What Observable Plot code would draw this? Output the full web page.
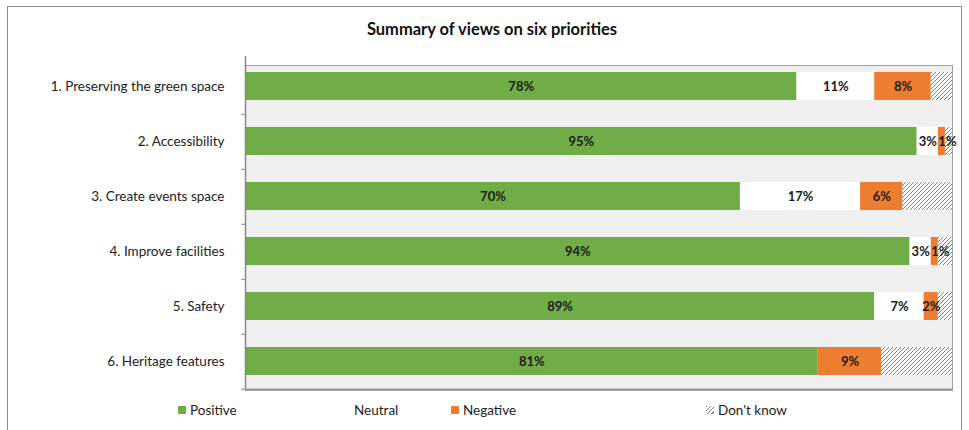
<!DOCTYPE html>
<html>
<head>
<meta charset="utf-8">
<script src="https://cdn.jsdelivr.net/npm/d3@7"></script>
<script src="https://cdn.jsdelivr.net/npm/@observablehq/plot@0.6"></script>
<style>
  body { margin: 0; background: #fff; font-family: Lato, "Open Sans", sans-serif; }
  #wrap { position: relative; width: 969px; height: 430px; overflow: hidden; }
  #border { position: absolute; left: 7px; top: 6px; width: 955px; height: 440px; border: 1px solid #8c8c8c; box-sizing: border-box; }
  #title { position: absolute; left: 0; top: 19px; width: 984px; text-align: center; font-weight: bold; font-size: 16.5px; color: #111; }
  #chart { position: absolute; left: 0; top: 0; }
  .leg { position: absolute; top: 402px; font-size: 13.5px; color: #222; display: flex; align-items: center; }
  .sw { width: 8px; height: 8px; margin-right: 4px; display: inline-block; }
</style>
</head>
<body>
<div id="wrap">
  <div id="border"></div>
  <div id="chart"></div>
  <div id="title">Summary of views on six priorities</div>
  <div id="legend"></div>
</div>
<script>
const categories = [
  "1. Preserving the green space",
  "2. Accessibility",
  "3. Create events space",
  "4. Improve facilities",
  "5. Safety",
  "6. Heritage features"
];
const seriesNames = ["Positive", "Neutral", "Negative", "Don't know"];
const positive = [78, 95, 70, 94, 89, 81];
const neutral  = [11, 3, 17, 3, 7, 0];
const negative = [8, 1, 6, 1, 2, 9];
const dontKnow = [3, 1, 7, 2, 2, 10];
const seriesColors = ["#70ad47", "#ffffff", "#ed7d31", "url(#hatch)"];
const legendLeft = [178, 342, 451, 706];

const columns = [positive, neutral, negative, dontKnow];
const data = [];
categories.forEach((c, i) => {
  seriesNames.forEach((s, j) => data.push({cat: c, series: s, value: columns[j][i]}));
});

const labelText = d => (d.series === "Don't know" || d.value === 0) ? "" : d.value + "%";
const labelStyle = {fontWeight: "bold", fontSize: 13, fill: "#1a1a1a"};

const plot = Plot.plot({
  width: 969,
  height: 400,
  marginLeft: 245,
  marginRight: 17,
  marginTop: 56,
  marginBottom: 10,
  style: {fontFamily: "Lato, 'Open Sans', sans-serif", fontSize: "13px", color: "#222", background: "transparent"},
  x: {domain: [0, 100], axis: null},
  y: {domain: categories, paddingInner: 0.5, paddingOuter: 0.25, label: null},
  color: {domain: seriesNames, range: seriesColors},
  marks: [
    Plot.frame({fill: "#f0f0f0", stroke: "#a0a0a0", insetTop: 9}),
    Plot.barX(data, Plot.stackX({x: "value", y: "cat", fill: "series", order: seriesNames})),
    // labels that fit: centred in their segment
    Plot.text(data, Plot.stackX({
      x: "value", y: "cat", z: "series", order: seriesNames,
      text: d => d.value > 1 ? labelText(d) : "",
      ...labelStyle
    })),
    // labels wider than their segment: start at the segment's left edge
    Plot.text(data, Plot.stackX1({
      x: "value", y: "cat", z: "series", order: seriesNames,
      text: d => d.value === 1 ? labelText(d) : "",
      textAnchor: "start",
      ...labelStyle
    })),
    Plot.axisY({tickSize: 0, tickPadding: 21, fontSize: 13.5, fill: "#222"}),
    Plot.axisY({tickSize: 4, dy: 27.75, tickFormat: () => "", stroke: "#888"}),
    Plot.ruleX([0], {stroke: "#888", strokeWidth: 1.5}),
    Plot.ruleY([0], {y: () => categories[5], dy: 27.75, stroke: "#999", strokeWidth: 1.5})
  ]
});

d3.select(plot).insert("defs", ":first-child").html(
  '<pattern id="hatch" patternUnits="userSpaceOnUse" width="4" height="4">' +
  '<rect width="4" height="4" fill="#fff"/>' +
  '<path d="M-1,1 l2,-2 M0,4 l4,-4 M3,5 l2,-2" stroke="#808080" stroke-width="1"/></pattern>'
);
document.getElementById("chart").appendChild(plot);

const legend = document.getElementById("legend");
seriesNames.forEach((s, i) => {
  const item = document.createElement("div");
  item.className = "leg";
  item.style.left = legendLeft[i] + "px";
  const sw = document.createElement("span");
  sw.className = "sw";
  if (i === 3) {
    sw.style.background = "repeating-linear-gradient(135deg, #808080 0 1px, #fff 1px 3px)";
  } else {
    sw.style.background = seriesColors[i];
  }
  item.appendChild(sw);
  item.appendChild(document.createTextNode(s));
  legend.appendChild(item);
});
</script>
</body>
</html>
